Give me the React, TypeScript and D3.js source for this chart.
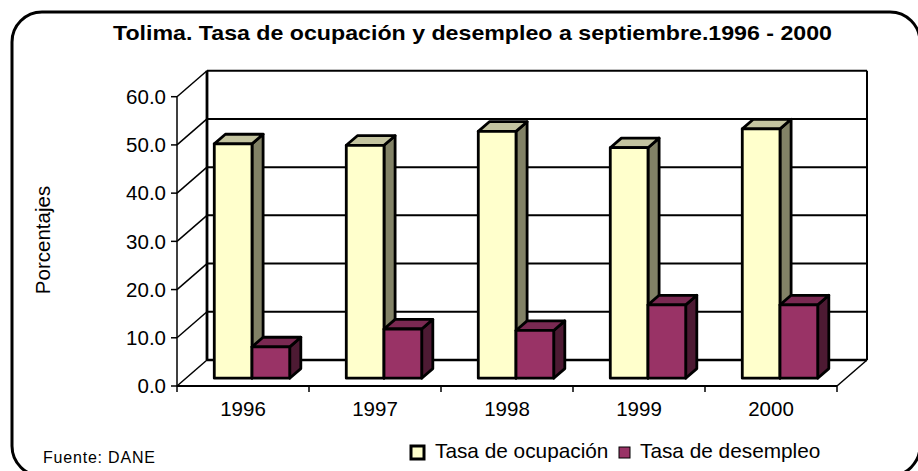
import React from 'react';
import * as d3 from 'd3';

const categories = ['1996', '1997', '1998', '1999', '2000'];
const ocupacion = [48.6, 48.3, 51.2, 47.8, 51.7];
const desempleo = [6.5, 10.2, 9.9, 15.2, 15.2];
const seriesNames = ['Tasa de ocupación', 'Tasa de desempleo'];
const yTicks = [0, 10, 20, 30, 40, 50, 60];
const titleText = 'Tolima. Tasa de ocupación y desempleo a septiembre.1996 - 2000';
const yTitle = 'Porcentajes';
const sourceText = 'Fuente: DANE';

const FONT = 'Arial, "Liberation Sans", Helvetica, sans-serif';

const colors = [
  { front: '#FFFFCC', top: '#C4C4A0', side: '#828266' },
  { front: '#993366', top: '#7A2952', side: '#4D1A33' },
];

const DX = 30;
const DY = -26;
const F1 = 0.3;
const F2 = 0.67;

export default function App() {
  const x = d3.scaleBand().domain(categories).range([177, 837]).paddingInner(0).paddingOuter(0);
  const xs = d3.scaleBand().domain(seriesNames).range([0, x.bandwidth()]).paddingInner(0).paddingOuter(0.75);
  const y = d3.scaleLinear().domain([0, 60]).range([386, 96.7]);
  const y0 = y(0);
  const x0 = x.range()[0];
  const x1 = x.range()[1];
  const yTop = y(60);
  const data = [ocupacion, desempleo];

  const bars: JSX.Element[] = [];
  categories.forEach((c, ci) => {
    data.forEach((vals, si) => {
      const v = vals[ci];
      const bx0 = (x(c) as number) + (xs(seriesNames[si]) as number) + F1 * DX;
      const bx1 = bx0 + xs.bandwidth();
      const by0 = y(v) + F1 * DY;
      const by1 = y0 + F1 * DY;
      const ddx = (F2 - F1) * DX;
      const ddy = (F2 - F1) * DY;
      const col = colors[si];
      const top = [[bx0, by0], [bx1, by0], [bx1 + ddx, by0 + ddy], [bx0 + ddx, by0 + ddy]];
      const side = [[bx1, by0], [bx1 + ddx, by0 + ddy], [bx1 + ddx, by1 + ddy], [bx1, by1]];
      const pts = (p: number[][]) => p.map((q) => q.join(',')).join(' ');
      bars.push(
        <g key={c + si} stroke="#000" strokeWidth={2.8} strokeLinejoin="round">
          <polygon points={pts(side)} fill={col.side} />
          <polygon points={pts(top)} fill={col.top} />
          <rect x={bx0} y={by0} width={bx1 - bx0} height={by1 - by0} fill={col.front} />
        </g>
      );
    });
  });

  return (
    <svg width={918} height={471} style={{ position: 'absolute', left: 0, top: 0, background: '#fff' }} fontFamily={FONT}>
      <rect x={0} y={0} width={918} height={471} fill="#fff" />
      <rect x={12} y={12} width={908} height={464} rx={30} ry={30} fill="#fff" stroke="#000" strokeWidth={3} />
      <text x={113} y={40} textLength={719} lengthAdjust="spacingAndGlyphs" fontSize={21} fontWeight="bold" fill="#000">{titleText}</text>

      {/* back wall gridlines */}
      {yTicks.map((t) => (
        <line key={'g' + t} x1={x0 + DX} x2={x1 + DX} y1={y(t) + DY} y2={y(t) + DY} stroke="#000" strokeWidth={t === 0 ? 2.6 : 2} />
      ))}
      {/* side wall diagonals */}
      {yTicks.map((t) => (
        <line key={'d' + t} x1={x0} y1={y(t)} x2={x0 + DX} y2={y(t) + DY} stroke="#000" strokeWidth={1.5} />
      ))}
      <line x1={x0 + DX} x2={x0 + DX} y1={yTop + DY} y2={y0 + DY} stroke="#000" strokeWidth={2.8} />
      <line x1={x1 + DX} x2={x1 + DX} y1={yTop + DY} y2={y0 + DY} stroke="#000" strokeWidth={2} />
      {/* floor */}
      <line x1={x1} y1={y0} x2={x1 + DX} y2={y0 + DY} stroke="#000" strokeWidth={1.5} />
      <line x1={x0} x2={x0} y1={yTop} y2={y0} stroke="#000" strokeWidth={1.5} />
      <line x1={x0} x2={x1} y1={y0} y2={y0} stroke="#000" strokeWidth={2.2} />

      {bars}

      {/* y ticks */}
      {yTicks.map((t) => (
        <g key={'t' + t}>
          <line x1={x0 - 6} x2={x0} y1={y(t)} y2={y(t)} stroke="#000" strokeWidth={1.5} />
          <text x={166} y={y(t)} dy="0.35em" textAnchor="end" fontSize={20.5} fill="#000">{d3.format('.1f')(t)}</text>
        </g>
      ))}
      {/* x ticks */}
      {[...categories.map((c) => x(c) as number), x1].map((px, i) => (
        <line key={'xt' + i} x1={px} x2={px} y1={y0} y2={y0 + 6} stroke="#000" strokeWidth={1.5} />
      ))}
      {categories.map((c) => (
        <text key={'xl' + c} x={(x(c) as number) + x.bandwidth() / 2} y={416} textAnchor="middle" fontSize={20.5} fill="#000">{c}</text>
      ))}

      <text transform="translate(50,240) rotate(-90)" textAnchor="middle" fontSize={20.5} fill="#000">{yTitle}</text>

      {/* legend */}
      <rect x={411} y={446} width={13} height={13} fill={colors[0].front} stroke="#000" strokeWidth={3} />
      <text x={435} y={458} fontSize={20.8} fill="#000">{seriesNames[0]}</text>
      <rect x={619} y={447} width={11} height={11} fill={colors[1].front} stroke="#000" strokeWidth={1} />
      <text x={640} y={458} fontSize={20.8} fill="#000">{seriesNames[1]}</text>

      <text x={43} y={463} fontSize={16} letterSpacing={0.8} fill="#000">{sourceText}</text>
    </svg>
  );
}
